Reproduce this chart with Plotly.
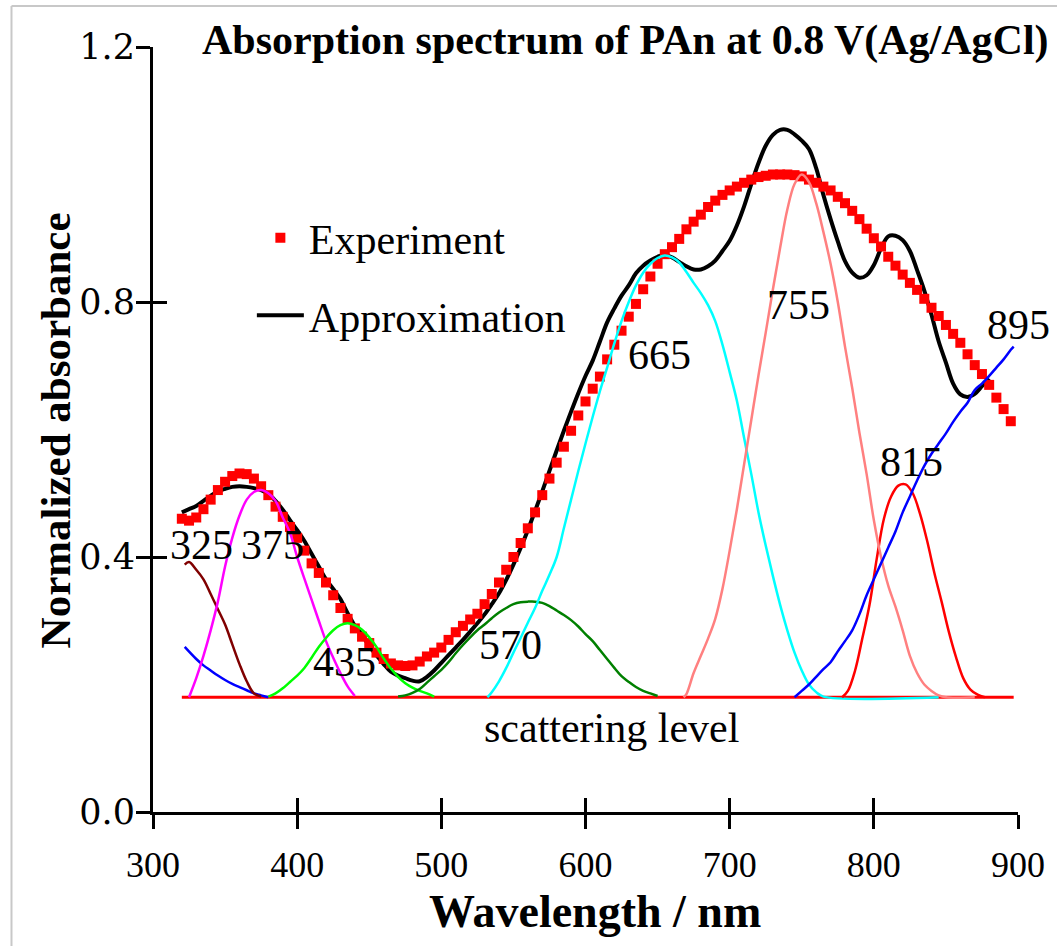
import plotly.graph_objects as go

# ---------------- data ----------------
exp_x = list(range(320, 900, 5))
exp_y = [0.460, 0.457, 0.462, 0.475, 0.490, 0.505, 0.518, 0.527, 0.531, 0.530,
         0.523, 0.511, 0.497, 0.479, 0.463, 0.447, 0.430, 0.410, 0.390, 0.375,
         0.360, 0.340, 0.320, 0.303, 0.288, 0.275, 0.265, 0.250, 0.240, 0.233,
         0.230, 0.229, 0.230, 0.236, 0.244, 0.250, 0.258, 0.270, 0.282, 0.292,
         0.302, 0.311, 0.326, 0.342, 0.360, 0.380, 0.400, 0.422, 0.445, 0.470,
         0.497, 0.523, 0.548, 0.573, 0.598, 0.622, 0.644, 0.664, 0.683, 0.710,
         0.733, 0.755, 0.777, 0.797, 0.820, 0.840, 0.860, 0.875, 0.886, 0.899,
         0.914, 0.926, 0.937, 0.949, 0.959, 0.968, 0.975, 0.981, 0.987, 0.992,
         0.996, 0.998, 1.000, 1.000, 1.000, 0.999, 0.997, 0.992, 0.987, 0.981,
         0.975, 0.965, 0.955, 0.943, 0.930, 0.915, 0.900, 0.887, 0.871, 0.857,
         0.843, 0.830, 0.819, 0.805, 0.791, 0.778, 0.764, 0.750, 0.736, 0.718,
         0.701, 0.687, 0.670, 0.650, 0.632, 0.613]

apx_x = list(range(320, 885, 5))
apx_y = [0.470, 0.475, 0.480, 0.488, 0.496, 0.503, 0.507, 0.510, 0.511, 0.510,
         0.508, 0.505, 0.499, 0.488, 0.474, 0.458, 0.442, 0.425, 0.405, 0.385,
         0.365, 0.350, 0.334, 0.312, 0.292, 0.278, 0.260, 0.246, 0.232, 0.220,
         0.214, 0.210, 0.206, 0.205, 0.212, 0.222, 0.234, 0.246, 0.258, 0.270,
         0.283, 0.296, 0.310, 0.326, 0.343, 0.364, 0.388, 0.414, 0.442, 0.472,
         0.503, 0.535, 0.567, 0.598, 0.628, 0.657, 0.684, 0.708, 0.738, 0.768,
         0.790, 0.810, 0.826, 0.845, 0.857, 0.865, 0.871, 0.874, 0.870, 0.863,
         0.856, 0.851, 0.851, 0.856, 0.865, 0.880, 0.896, 0.920, 0.950, 0.985,
         1.018, 1.045, 1.062, 1.070, 1.070, 1.063, 1.053, 1.040, 1.010, 0.968,
         0.930, 0.895, 0.864, 0.846, 0.838, 0.842, 0.858, 0.884, 0.903, 0.904,
         0.897, 0.880, 0.850, 0.818, 0.780, 0.738, 0.705, 0.672, 0.655, 0.651,
         0.656, 0.668, 0.680]

scat_x = [320, 897]
scat_y = [0.18, 0.18]

uv_x = [322, 330, 335, 340, 345, 350, 355, 360, 365, 370, 375, 380]
uv_y = [0.259, 0.240, 0.230, 0.222, 0.214, 0.207, 0.201, 0.196, 0.191, 0.186, 0.183, 0.180]

c325_x = [322, 325, 330, 335, 340, 345, 350, 355, 360, 365, 370, 375]
c325_y = [0.388, 0.392, 0.380, 0.365, 0.342, 0.318, 0.294, 0.263, 0.232, 0.205, 0.186, 0.181]

c375_x = list(range(325, 445, 5))
c375_y = [0.180, 0.210, 0.245, 0.285, 0.330, 0.385, 0.430, 0.465, 0.490, 0.502,
          0.505, 0.500, 0.488, 0.462, 0.438, 0.400, 0.366, 0.333, 0.300, 0.268,
          0.242, 0.218, 0.197, 0.182]

c435_x = list(range(380, 500, 5))
c435_y = [0.181, 0.186, 0.194, 0.204, 0.214, 0.226, 0.242, 0.259, 0.273, 0.285,
          0.293, 0.296, 0.293, 0.286, 0.274, 0.259, 0.241, 0.225, 0.212, 0.202,
          0.195, 0.190, 0.186, 0.181]

c570_x = list(range(470, 655, 5))
c570_y = [0.181, 0.183, 0.187, 0.193, 0.203, 0.213, 0.223, 0.235, 0.249, 0.262,
          0.274, 0.285, 0.294, 0.304, 0.313, 0.320, 0.326, 0.329, 0.330, 0.330,
          0.328, 0.323, 0.316, 0.309, 0.301, 0.291, 0.279, 0.268, 0.254, 0.240,
          0.226, 0.213, 0.204, 0.196, 0.190, 0.186, 0.182]

c665_x = [532] + list(range(535, 770, 5)) + [845]
c665_y = [0.180, 0.188, 0.205, 0.226, 0.250, 0.273, 0.297, 0.320, 0.347, 0.372,
          0.400, 0.445, 0.490, 0.535, 0.578, 0.620, 0.660, 0.697, 0.735, 0.770,
          0.800, 0.826, 0.846, 0.860, 0.869, 0.873, 0.870, 0.862, 0.847, 0.830,
          0.814, 0.795, 0.770, 0.733, 0.690, 0.645, 0.587, 0.530, 0.470, 0.418,
          0.370, 0.325, 0.285, 0.250, 0.222, 0.200, 0.188, 0.181, 0.180]

c755_x = [668] + list(range(670, 855, 5)) + [870]
c755_y = [0.180, 0.185, 0.218, 0.245, 0.272, 0.303, 0.350, 0.410, 0.475, 0.545,
          0.615, 0.685, 0.752, 0.820, 0.885, 0.945, 0.985, 1.000, 0.988, 0.955,
          0.910, 0.860, 0.800, 0.730, 0.665, 0.595, 0.530, 0.458, 0.400, 0.355,
          0.322, 0.285, 0.245, 0.218, 0.200, 0.190, 0.183, 0.180, 0.180]

c815_x = [778] + list(range(782, 882, 5))
c815_y = [0.180, 0.190, 0.222, 0.272, 0.325, 0.397, 0.460, 0.495, 0.512, 0.514,
          0.500, 0.468, 0.425, 0.375, 0.330, 0.283, 0.243, 0.210, 0.192, 0.184, 0.180]

c895_x = list(range(745, 900, 5)) + [897]
c895_y = [0.180, 0.190, 0.200, 0.212, 0.224, 0.235, 0.252, 0.268, 0.285, 0.310,
          0.340, 0.365, 0.390, 0.415, 0.440, 0.470, 0.495, 0.520, 0.543, 0.562,
          0.578, 0.594, 0.612, 0.628, 0.642, 0.662, 0.672, 0.684, 0.697, 0.710,
          0.725, 0.730]

peak_labels = ["325", "375", "435", "570", "665", "755", "815", "895"]
peak_lx = [333.5, 383, 432.5, 548, 651.5, 748, 826, 900]
peak_ly = [0.419, 0.419, 0.235, 0.262, 0.717, 0.795, 0.549, 0.764]

x_ticks = [300, 400, 500, 600, 700, 800, 900]
y_ticks = [0.0, 0.4, 0.8, 1.2]
y_ticktext = ["0.0", "0.4", "0.8", "1.2"]

SERIF = "Liberation Serif, Times New Roman, serif"
WIDE_SERIF = "DejaVu Serif, serif"

# ---------------- figure ----------------
fig = go.Figure()

fig.add_trace(go.Scatter(x=scat_x, y=scat_y, mode="lines",
                         line=dict(color="#FF0000", width=3), showlegend=False))
fig.add_trace(go.Scatter(x=apx_x, y=apx_y, mode="lines", name="Approximation",
                         line=dict(color="#000000", width=4, shape="spline"),
                         legendgroup="b", legendrank=2))
fig.add_trace(go.Scatter(x=exp_x, y=exp_y, mode="markers", name="Experiment",
                         marker=dict(symbol="square", size=10, color="#FF0000"),
                         legendgroup="a", legendrank=1))

comps = [
    (uv_x, uv_y, "#0000FF"),
    (c325_x, c325_y, "#800000"),
    (c375_x, c375_y, "#FF00FF"),
    (c435_x, c435_y, "#00FF00"),
    (c570_x, c570_y, "#008000"),
    (c665_x, c665_y, "#00FFFF"),
    (c815_x, c815_y, "#FF0000"),
    (c755_x, c755_y, "#FF8080"),
    (c895_x, c895_y, "#0000FF"),
]
for cx, cy, col in comps:
    fig.add_trace(go.Scatter(x=cx, y=cy, mode="lines",
                             line=dict(color=col, width=2.5, shape="spline"),
                             showlegend=False))

ann = []
for t, lx, ly in zip(peak_labels, peak_lx, peak_ly):
    ann.append(dict(x=lx, y=ly, xref="x", yref="y", text=t, showarrow=False,
                    xanchor="center", yanchor="middle",
                    font=dict(family=SERIF, size=42, color="black")))
ann.append(dict(x=617.8, y=0.132, xref="x", yref="y", text="scattering level",
                showarrow=False, xanchor="center", yanchor="middle",
                font=dict(family=SERIF, size=42, color="black")))
ann.append(dict(x=0.054, y=1.009, xref="paper", yref="paper", xanchor="left",
                yanchor="middle", showarrow=False,
                text="<b>Absorption spectrum of PAn at 0.8 V(Ag/AgCl)</b>",
                font=dict(family=SERIF, size=42, color="black")))
ann.append(dict(x=0.5115, y=-0.1307, xref="paper", yref="paper", showarrow=False,
                xanchor="center", yanchor="middle",
                text="<b>Wavelength / nm</b>",
                font=dict(family=SERIF, size=46, color="black")))
ann.append(dict(x=-0.1129, y=0.4993, xref="paper", yref="paper", showarrow=False,
                xanchor="center", yanchor="middle",
                textangle=-90, text="<b>Normalized absorbance</b>",
                font=dict(family=SERIF, size=43, color="black")))

axis_common = dict(showgrid=False, zeroline=False)
fig.update_layout(
    width=1057, height=946,
    margin=dict(l=153, r=36, t=47, b=134),
    paper_bgcolor="white", plot_bgcolor="white",
    showlegend=True,
    legend=dict(x=0.1143, y=0.795, xanchor="left", yanchor="top",
                font=dict(family=SERIF, size=42, color="black"),
                bgcolor="rgba(0,0,0,0)", itemwidth=47,
                traceorder="grouped", tracegroupgap=20),
    xaxis=dict(range=[300, 900], tickvals=x_ticks, ticks="outside", ticklen=14,
               tickwidth=3, tickcolor="black", showline=True, linewidth=3,
               linecolor="black", ticklabelstandoff=5,
               tickfont=dict(family=SERIF, size=36, color="black"), **axis_common),
    yaxis=dict(range=[0, 1.2], tickvals=y_ticks, ticktext=y_ticktext,
               ticks="outside", ticklen=14, tickwidth=3, tickcolor="black",
               showline=True, linewidth=3, linecolor="black", ticklabelstandoff=-6,
               tickfont=dict(family=WIDE_SERIF, size=35, color="black"), **axis_common),
    xaxis2=dict(overlaying="x", anchor="y", side="bottom", range=[300, 900],
                tickvals=x_ticks, ticks="inside", ticklen=14, tickwidth=3,
                tickcolor="black", showticklabels=False, showline=False,
                **axis_common),
    yaxis2=dict(overlaying="y", anchor="x", side="left", range=[0, 1.2],
                tickvals=y_ticks, ticks="inside", ticklen=14, tickwidth=3,
                tickcolor="black", showticklabels=False, showline=False,
                **axis_common),
    annotations=ann,
    shapes=[
        dict(type="line", xref="paper", yref="paper", x0=-0.1636, x1=-0.1636,
             y0=1.0536, y1=-0.176, line=dict(color="#C8C8C8", width=2)),
        dict(type="line", xref="paper", yref="paper", x0=-0.1636, x1=1.05,
             y0=1.0536, y1=1.0536, line=dict(color="#C8C8C8", width=2)),
    ],
)
# invisible trace so the overlay axes (inner tick halves) render
fig.add_trace(go.Scatter(x=[300], y=[0], xaxis="x2", yaxis="y2", mode="markers",
                         marker=dict(opacity=0), showlegend=False, hoverinfo="skip"))

fig.write_html("out.html")
